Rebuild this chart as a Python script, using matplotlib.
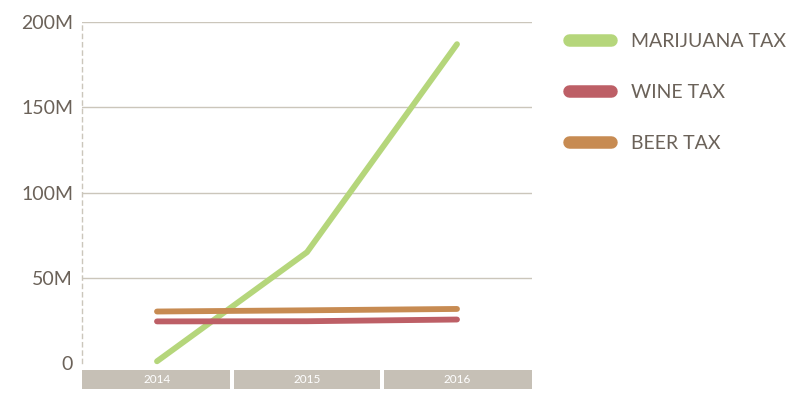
import matplotlib
matplotlib.use("Agg")
import matplotlib.pyplot as plt
from matplotlib.patches import Rectangle

years = ["2014", "2015", "2016"]
marijuana = [1, 65, 187]
wine = [24.4, 24.5, 25.5]
beer = [30.2, 30.9, 31.7]

series_names = ["MARIJUANA TAX", "WINE TAX", "BEER TAX"]
series_colors = ["#b5d67b", "#bd5f66", "#c78b52"]

y_ticks = [0, 50, 100, 150, 200]
y_labels = ["0", "50M", "100M", "150M", "200M"]

text_col = "#6b6259"
grid_col = "#cbc6bb"
box_col = "#c6c0b6"

plt.rcParams["font.family"] = ["Lato", "DejaVu Sans"]

fig = plt.figure(figsize=(8, 4), dpi=100)
ax = fig.add_axes([0.1025, 0.0925, 0.5625, 0.8525])

x = list(range(len(years)))
for vals, name, col in zip([marijuana, wine, beer], series_names, series_colors):
    ax.plot(x, vals, color=col, lw=4.2, solid_capstyle="round", label=name, clip_on=False)

ax.set_xlim(-0.5, len(years) - 0.5)
ax.set_ylim(0, 200)
ax.set_yticks(y_ticks)
ax.set_yticklabels(y_labels)
ax.set_xticks([])
ax.tick_params(axis="y", length=0, pad=6.5, labelsize=14, labelcolor=text_col)
for t in y_ticks[1:]:
    ax.axhline(t, color=grid_col, lw=1, zorder=0)
for s in ["top", "right", "bottom"]:
    ax.spines[s].set_visible(False)
ax.spines["left"].set_color(grid_col)
ax.spines["left"].set_linestyle((0, (3, 3)))
ax.spines["left"].set_linewidth(1)

# category boxes under the plot
bx = fig.add_axes([0.1025, 0.0275, 0.5625, 0.0475], sharex=ax)
bx.axis("off")
bx.set_ylim(0, 1)
gap = 0.013
for i, yr in enumerate(years):
    left = i - 0.5 + (gap if i > 0 else 0)
    right = i + 0.5 - (gap if i < len(years) - 1 else 0)
    bx.add_patch(Rectangle((left, 0), right - left, 1, color=box_col, lw=0))
    bx.text(i, 0.48, yr, ha="center", va="center", color="white", fontsize=8.5)

leg = fig.legend(loc="upper left", bbox_to_anchor=(0.7115, 0.917), frameon=False,
                 fontsize=14, handlelength=2.15, handletextpad=1.05,
                 labelspacing=1.75, borderaxespad=0, borderpad=0)
for h in leg.get_lines():
    h.set_linewidth(9)
    h.set_solid_capstyle("round")
for t in leg.get_texts():
    t.set_color(text_col)

fig.savefig("out.png", dpi=100)
